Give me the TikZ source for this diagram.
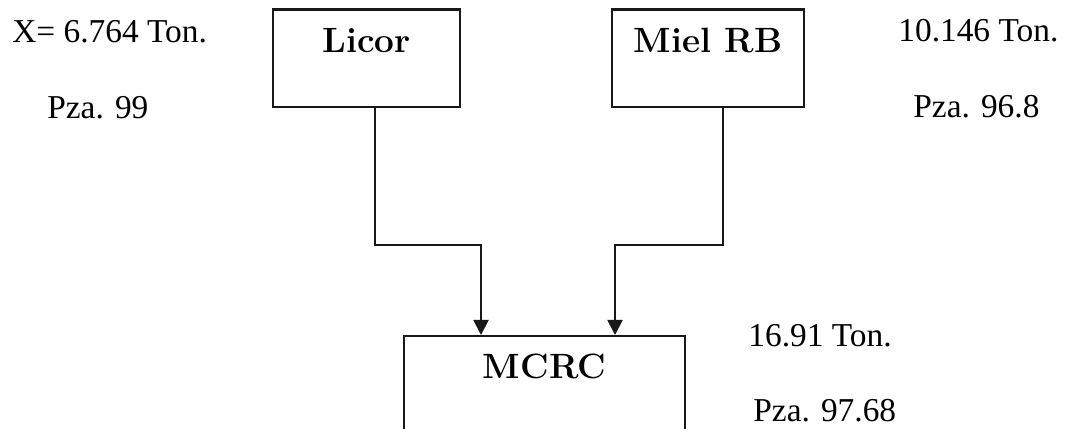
\documentclass[tikz,border=0pt]{standalone}
\usepackage{fontspec}
\newfontfamily\valuefont{Liberation Serif}
\usetikzlibrary{arrows.meta}

\begin{document}
\begin{tikzpicture}[
    % Styles: stream boxes with the name near the top, values beside them
    stream/.style={rectangle, draw=black!90, line width=1.3pt, fill=white, minimum width=3.8cm, inner xsep=0pt, inner ysep=0pt, text height=0.85cm, text depth=1.1cm, anchor=north, font=\bfseries\fontsize{20}{24}\selectfont},
    value/.style={anchor=base west, inner sep=0pt, font=\valuefont\fontsize{19}{23}\selectfont},
    flow/.style={-{Triangle[length=0.3cm, width=0.3cm]}, draw=black!90, line width=1.1pt}
]

% Frame
\clip (0, 0) rectangle (21.4, 8.58);

% Input streams
\node[stream, minimum width=3.74cm] (licor) at (7.33, 8.41) {Licor};
\node[stream, minimum width=3.84cm] (miel_rb) at (14.16, 8.41) {Miel RB};

% Mixed stream
\node[stream, minimum width=5.62cm, text depth=1.5cm] (mcrc) at (10.89, 1.88) {MCRC};

% Flow connections
\draw[flow] ([xshift=0.17cm]licor.south) -- ++(0, -2.74) -| ([xshift=-1.27cm]mcrc.north);
\draw[flow] ([xshift=0.30cm]miel_rb.south) -- ++(0, -2.74) -| ([xshift=1.41cm]mcrc.north);

% Values
\node[value] (licor_ton) at (0.24, 7.72) {X= 6.764 Ton.};
\node[value] (licor_pza) at (0.94, 6.20) {Pza. 99};
\node[value] (miel_ton) at (17.96, 7.74) {10.146 Ton.};
\node[value] (miel_pza) at (18.26, 6.22) {Pza. 96.8};
\node[value] (mcrc_ton) at (14.96, 1.64) {16.91 Ton.};
\node[value] (mcrc_pza) at (15.06, 0.14) {Pza. 97.68};

\end{tikzpicture}
\end{document}
